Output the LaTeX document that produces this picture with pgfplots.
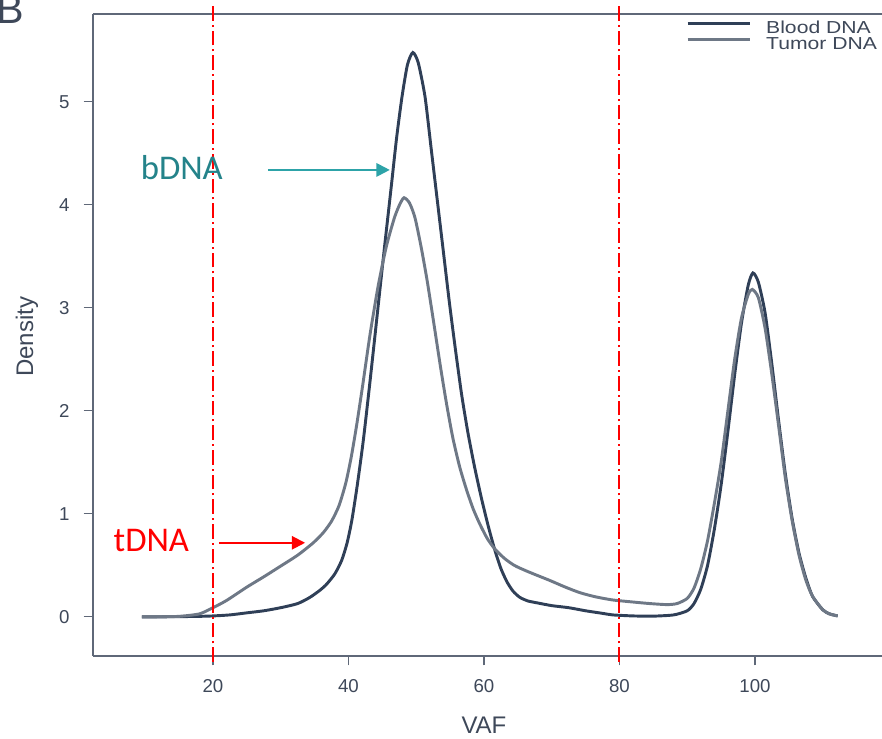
\documentclass[border=0pt]{standalone}
\usepackage{pgfplots}
\pgfplotsset{compat=1.18}
\usepackage{graphicx}
\usepackage{fontspec}
\setmainfont{Liberation Sans}
\newfontfamily\calibri{Carlito}
\usetikzlibrary{arrows.meta}
\definecolor{blood}{HTML}{2F3F57}
\definecolor{tumor}{HTML}{6E7886}
\definecolor{axisc}{HTML}{5F6878}
\definecolor{textc}{HTML}{3E4859}
\definecolor{tealA}{HTML}{2DA3A8}
\definecolor{tealT}{HTML}{24838A}
\begin{document}
\begin{tikzpicture}
\begin{axis}[
  scale only axis,
  width=591.75pt, height=481.5pt,
  xmin=2.29, xmax=118.75,
  ymin=-0.379, ymax=5.854,
  axis x line*=box, axis y line*=left,
  axis line style={axisc, line width=1.1pt},
  tick style={axisc, line width=0.8pt},
  tick align=outside,
  major tick length=7pt,
  xtick={20,40,60,80,100},
  ytick={0,1,2,3,4,5},
  xtick pos=bottom, ytick pos=left,
  /pgf/number format/assume math mode=true,
  ticklabel style={font=\fontsize{14}{15}\selectfont, text=textc},
  xticklabel style={yshift=-7pt},
  yticklabel style={xshift=-7pt},
  xlabel={VAF}, ylabel={Density},
  every axis x label/.style={at={(rel axis cs:0.4955,-0.1075)}, anchor=center, font=\fontsize{18}{20}\selectfont, text=textc},
  every axis y label/.style={at={(rel axis cs:-0.0837,0.497)}, anchor=center, rotate=90, font=\fontsize{18}{20}\selectfont, text=textc},
  clip=false,
  legend style={at={(rel axis cs:0.9937,1)}, yshift=-5.25pt, anchor=north east, draw=none, fill=none, inner sep=0pt, outer sep=0pt,
    font=\fontsize{13}{13}\selectfont, text=textc, row sep=-1.2pt,
    nodes={inner sep=0pt, text height=9.5pt, text depth=3.5pt}},
  legend cell align=left,
  legend image code/.code={\draw[#1] (0pt,4.6pt) -- (47pt,4.6pt); \path[draw=none] (0pt,4.6pt) -- (59pt,4.6pt);},
]
\addplot[blood, line width=2.2pt, smooth, tension=0.4] coordinates {
(9.5,0)(12,0.001)(15,0.003)(18,0.006)(20,0.01)(22.5,0.02)(25,0.04)(27.5,0.06)(30,0.09)(32.5,0.13)(34.3,0.19)(35.8,0.26)(36.8,0.32)(38,0.42)(39,0.55)(39.8,0.72)(40.5,0.94)(41.3,1.28)(42.2,1.72)(43.2,2.3)(44.3,2.97)(45.3,3.58)(46.3,4.17)(47.1,4.65)(47.9,5.05)(48.7,5.36)(49.5,5.48)(50.3,5.38)(51.3,5.05)(52.2,4.55)(53.1,4.05)(54.0,3.55)(54.9,3.05)(55.8,2.59)(56.7,2.16)(57.6,1.8)(58.6,1.46)(59.6,1.16)(60.6,0.89)(61.6,0.65)(62.5,0.47)(63.4,0.34)(64.3,0.25)(65.3,0.19)(66.5,0.155)(68,0.135)(70,0.11)(72.5,0.09)(75,0.06)(77.5,0.035)(79,0.02)(82,0.01)(85,0.008)(88,0.02)(90,0.06)(91,0.13)(92,0.27)(93,0.5)(94,0.85)(95,1.28)(96,1.8)(97,2.35)(98,2.85)(99,3.22)(99.7,3.34)(100.5,3.25)(101.5,2.95)(102.5,2.45)(103.5,1.9)(104.5,1.38)(105.5,0.95)(106.5,0.62)(107.5,0.38)(108.5,0.2)(110,0.07)(111,0.03)(112.2,0.01)
};
\addlegendentry{\scalebox{1.22}[1]{Blood DNA}}
\addplot[tumor, line width=2.2pt, smooth, tension=0.4] coordinates {
(9.5,0)(12,0.002)(15,0.006)(18,0.03)(20,0.09)(22,0.16)(25,0.29)(27.5,0.39)(29.9,0.49)(32.5,0.6)(34.8,0.72)(36.3,0.82)(37.5,0.93)(38.6,1.08)(39.6,1.3)(40.4,1.55)(41.2,1.86)(42.1,2.25)(43.2,2.75)(44.4,3.22)(45.6,3.6)(46.8,3.88)(47.6,4.01)(48.2,4.07)(49,4.02)(49.8,3.88)(50.7,3.6)(51.6,3.27)(52.6,2.85)(53.6,2.42)(54.5,2.06)(55.4,1.74)(56.4,1.46)(57.4,1.24)(58.4,1.05)(59.4,0.9)(60.5,0.76)(61.6,0.66)(63,0.57)(64.5,0.5)(66.5,0.44)(69.7,0.355)(72,0.29)(74.2,0.235)(76.5,0.195)(79,0.165)(82,0.145)(84.5,0.13)(87,0.12)(88.5,0.13)(90,0.18)(91,0.28)(92,0.47)(93,0.74)(94,1.1)(95,1.5)(96,2.0)(97,2.5)(98,2.9)(99,3.13)(99.6,3.18)(100.5,3.1)(101.5,2.8)(102.5,2.35)(103.5,1.85)(104.5,1.34)(105.5,0.93)(106.5,0.6)(107.5,0.36)(108.5,0.2)(110,0.07)(111,0.03)(112.2,0.01)
};
\addlegendentry{\scalebox{1.22}[1]{Tumor DNA}}
% red dash-dot guide lines
\draw[red, line width=1.5pt, dash pattern=on 11pt off 3pt on 1.5pt off 3pt] (axis cs:20,-0.437) -- (axis cs:20,5.94);
\draw[red, line width=1.5pt, dash pattern=on 11pt off 3pt on 1.5pt off 3pt] (axis cs:80,-0.437) -- (axis cs:80,5.94);
% annotations
\draw[tealA, line width=1.5pt, -{Triangle[length=10pt,width=10pt]}] (axis cs:28.1,4.34) -- (axis cs:46.1,4.34);
\draw[red, line width=1.5pt, -{Triangle[length=10pt,width=10pt]}] (axis cs:20.9,0.72) -- (axis cs:33.6,0.72);
\node[text=tealT, font=\calibri\fontsize{26}{28}\selectfont, anchor=center, inner sep=0pt] at (axis cs:15.4,4.36) {bDNA};
\node[text=red, font=\calibri\fontsize{26}{28}\selectfont, anchor=center, inner sep=0pt] at (axis cs:10.9,0.74) {tDNA};
\end{axis}
\node[anchor=base west, inner sep=0pt, text=textc, font=\fontsize{31}{33}\selectfont] at ([shift={(-72.5pt,474pt)}]current axis.south west) {B};
\pgfresetboundingbox
\path[use as bounding box] (current axis.south west) ++(-69.75pt,-62.25pt) rectangle ++(661.5pt,554.25pt);
\end{tikzpicture}
\end{document}
